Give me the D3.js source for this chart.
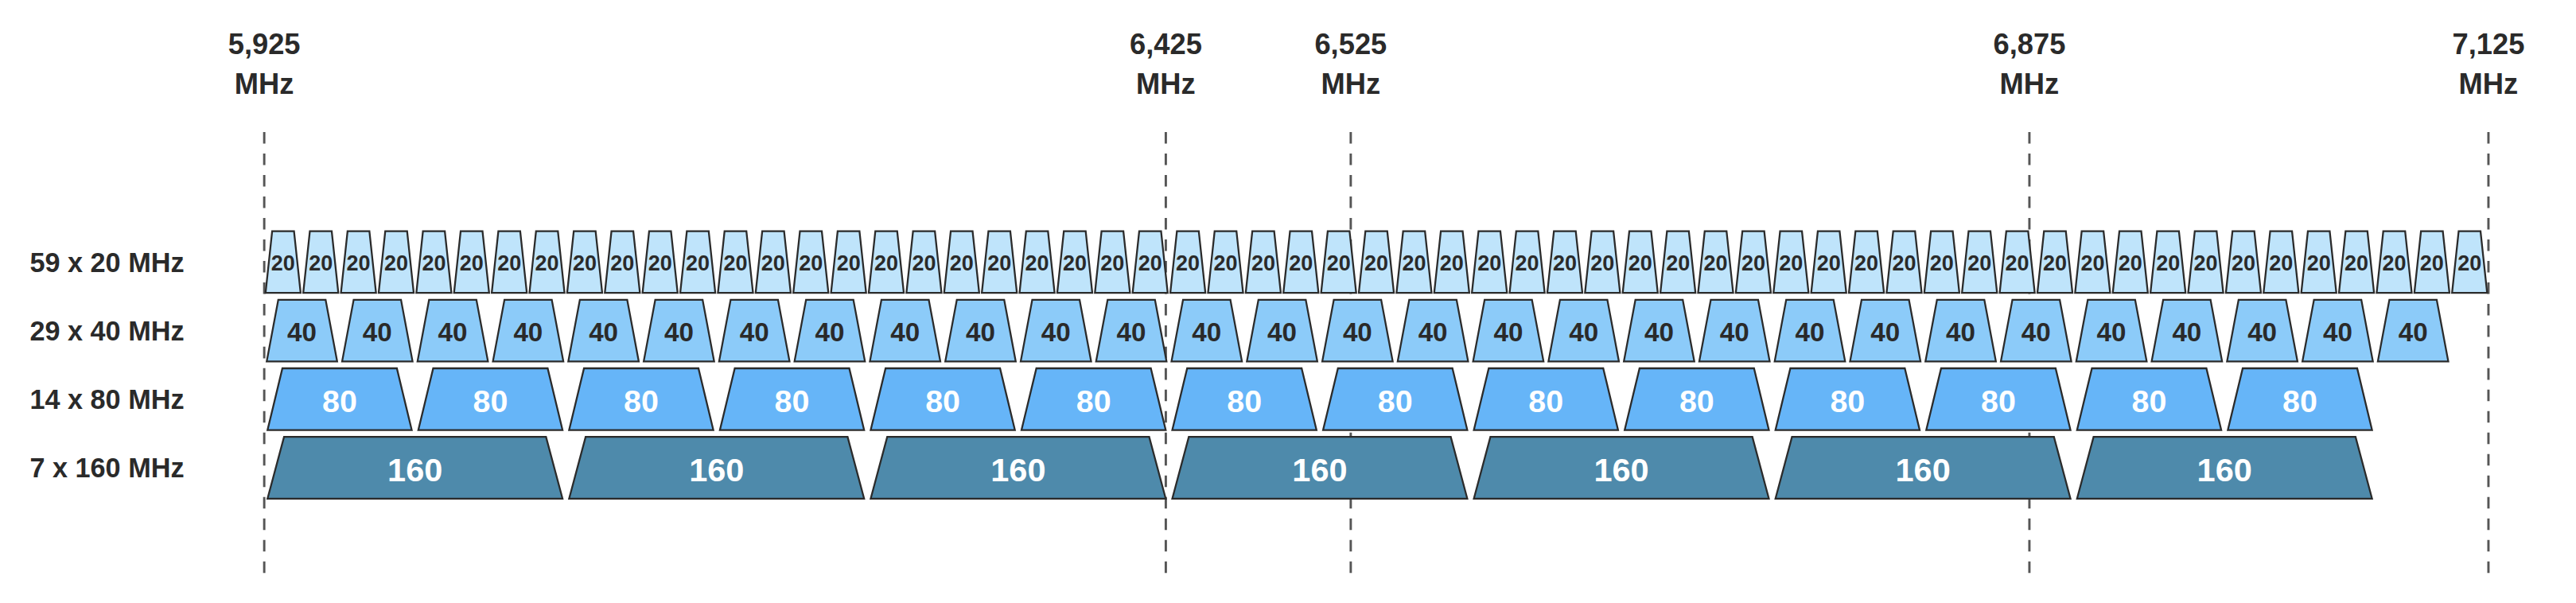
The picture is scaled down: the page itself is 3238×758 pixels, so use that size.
<!DOCTYPE html>
<html><head><meta charset="utf-8">
<script src="https://cdn.jsdelivr.net/npm/d3@7"></script>
<style>body{margin:0;background:#fff}</style></head>
<body><svg id="c"></svg>
<script>
const markers = [5925, 6425, 6525, 6875, 7125];
const markerLabels = ["5,925", "6,425", "6,525", "6,875", "7,125"];
const widths = [20, 40, 80, 160];
const counts = [59, 29, 14, 7];
const rowLabels = ["59 x 20 MHz", "29 x 40 MHz", "14 x 80 MHz", "7 x 160 MHz"];
const fills = ["#bfe4fb", "#8ccbf9", "#66b5f8", "#4e8aab"];
const textColors = ["#2a2a2a", "#2a2a2a", "#ffffff", "#ffffff"];

const W = 1560, H = 365.2;
const svg = d3.select("#c").attr("width", 3238).attr("height", 758).attr("viewBox", `0 0 ${W} ${H}`);
const font = "'Liberation Sans',Arial,sans-serif";
// channel scale (channels fill the band up to the last marker line)
const x = d3.scaleLinear().domain([5925, 7105]).range([160, 1507]);
// marker scale (diagram is not strictly to scale)
const xm = d3.scaleLinear().domain(markers).range([160, 706, 818, 1229, 1507]);
const y = d3.scaleBand().domain(rowLabels).range([140, 302]).paddingInner(0.1);
const inset = [4, 7, 9, 10], fsz = [13, 16, 19, 20], gap = [0.8, 1.5, 2, 2];

markers.forEach((m, i) => {
  svg.append("line").attr("x1", xm(m)).attr("x2", xm(m)).attr("y1", 80).attr("y2", 350)
    .attr("stroke", "#555").attr("stroke-width", 1.4).attr("stroke-dasharray", "7,6");
  const t = svg.append("text").attr("text-anchor", "middle")
    .attr("font-family", font).attr("font-weight", "bold")
    .attr("font-size", 17.5).attr("fill", "#2a2a2a");
  t.append("tspan").attr("x", xm(m)).attr("y", 33).text(markerLabels[i]);
  t.append("tspan").attr("x", xm(m)).attr("y", 57).text("MHz");
});

widths.forEach((w, r) => {
  const top = y(rowLabels[r]), bot = top + y.bandwidth();
  svg.append("text").attr("x", 18).attr("y", (top + bot) / 2 + 6)
    .attr("font-family", font).attr("font-weight", "bold")
    .attr("font-size", 16.5).attr("fill", "#2a2a2a").text(rowLabels[r]);
  const chans = d3.range(counts[r]).map(i => 5925 + i * w);
  const g = svg.append("g");
  g.selectAll("path").data(chans).join("path")
    .attr("d", d => {
      const a = x(d) + gap[r], b = x(d + w) - gap[r], k = inset[r];
      return `M${a},${bot}L${a + k},${top}L${b - k},${top}L${b},${bot}Z`;
    })
    .attr("fill", fills[r]).attr("stroke", "#2b2b2b").attr("stroke-width", 1.1);
  g.selectAll("text").data(chans).join("text")
    .attr("x", d => x(d + w / 2)).attr("y", (top + bot) / 2 + fsz[r] * 0.4)
    .attr("text-anchor", "middle").attr("font-family", font).attr("font-weight", "bold")
    .attr("font-size", fsz[r]).attr("fill", textColors[r]).text(w);
});
</script></body></html>
